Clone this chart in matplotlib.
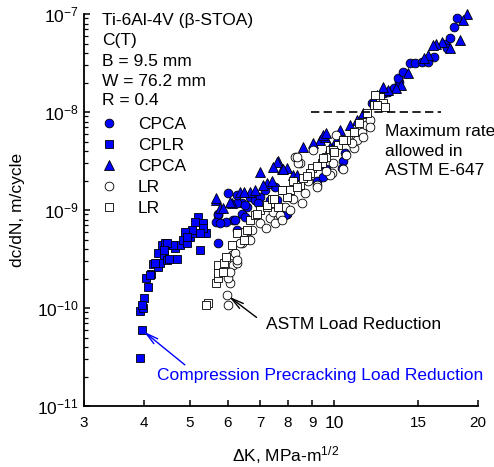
import matplotlib
matplotlib.use("Agg")
import matplotlib.pyplot as plt
from matplotlib.ticker import FixedLocator, FixedFormatter, NullLocator, LogLocator, NullFormatter

plt.rcParams['font.family'] = ['Liberation Sans', 'DejaVu Sans']
plt.rcParams['mathtext.fontset'] = 'custom'
plt.rcParams['mathtext.rm'] = 'Liberation Sans'
plt.rcParams['mathtext.it'] = 'Liberation Sans:italic'

BLUE = '#0000ff'
FS = 12.5

# ---------------- data (ΔK in MPa-m^1/2, dc/dN in m/cycle) ----------------
cpca_circ_dk = [5.73, 6.01, 6.16, 6.26, 6.41, 6.67, 6.84, 7.00, 7.17, 7.53, 7.59, 7.96,
                5.72, 5.95, 5.67, 6.41, 6.58, 6.21, 6.52, 6.94, 7.35, 7.90, 6.26, 9.64,
                10.55, 9.2, 8.09, 10.45, 9.5, 10.37, 12.0, 12.3, 12.7, 12.95, 13.35, 13.7,
                13.6, 13.95, 14.4, 14.75, 15.25, 15.75, 16.15, 17.1, 17.25, 17.5, 17.8, 18.1,
                6.26, 5.72, 5.78, 6.52]
cpca_circ_rate = [4.6e-10, 1.48e-9, 7.9e-10, 6.3e-10, 1.17e-9, 1.37e-9, 1.26e-9, 1.37e-9, 1.6e-9,
                  1.73e-9, 1.26e-9, 9.2e-10, 8.9e-10, 7.6e-10, 7.6e-10, 9.2e-10, 1.08e-9, 7.9e-10,
                  8.5e-10, 1.17e-9, 1.26e-9, 8.9e-10, 1.17e-9, 2.6e-9, 3.79e-9, 2.0e-9, 1.37e-9,
                  3.2e-9, 2.19e-9, 2.66e-9, 1.23e-8, 1.38e-8, 1.55e-8, 1.61e-8, 1.74e-8, 2.04e-8,
                  2.21e-8, 2.58e-8, 3.14e-8, 3.14e-8, 3.26e-8, 3.26e-8, 3.66e-8, 5.0e-8, 4.47e-8,
                  5.65e-8, 7.4e-8, 9.0e-8, 1.42e-9, 9.2e-10, 7.3e-10, 1.12e-9]

cplr_dk = [3.93, 3.96, 3.93, 3.98, 4.01, 4.04, 4.09, 4.14, 4.19, 4.29, 4.33, 4.28, 4.40, 4.47,
           4.36, 4.43, 4.54, 4.65, 4.69, 4.76, 4.83, 4.92, 5.00, 5.12, 5.24, 5.37, 5.20, 5.33,
           5.12, 5.04, 4.88, 4.92, 4.61, 4.47, 4.40, 4.22, 4.12, 3.96, 5.40, 4.51, 5.33, 5.33,
           5.24]
cplr_rate = [3.1e-11, 6.0e-11, 9.3e-11, 1.0e-10, 1.26e-10, 2.04e-10, 1.63e-10, 2.22e-10, 2.79e-10,
             2.64e-10, 2.9e-10, 3.6e-10, 3.5e-10, 3.1e-10, 4.4e-10, 4.6e-10, 4.4e-10, 4.1e-10,
             3.2e-10, 4.4e-10, 4.9e-10, 4.6e-10, 5.3e-10, 5.8e-10, 3.9e-10, 5.8e-10, 8.5e-10,
             7.0e-10, 7.6e-10, 6.3e-10, 6.0e-10, 5.3e-10, 4.4e-10, 4.6e-10, 3.9e-10, 2.86e-10,
             2.17e-10, 1.07e-10, 5.8e-10, 3.2e-10, 7.3e-10, 6.5e-10, 5.8e-10]

cpca_tri_dk = [7.0, 7.63, 7.96, 5.67, 6.11, 6.36, 6.67, 7.23, 7.41, 7.77, 8.22, 5.78, 7.59, 7.47,
               7.83, 8.36, 9.35, 9.58, 9.81, 10.8, 6.47, 6.84, 7.11, 9.5, 9.64, 12.3, 8.63, 19.0,
               18.6, 18.3, 17.5, 16.85, 16.35, 16.1, 15.75, 15.4, 14.3, 13.8, 13.45, 12.95, 12.65,
               12.1, 5.67, 6.06, 5.85, 11.15, 11.5, 10.3, 9.05, 10.1]
cpca_tri_rate = [2.46e-9, 3.2e-9, 2.66e-9, 1.26e-9, 1.17e-9, 1.54e-9, 1.54e-9, 1.87e-9, 2.0e-9,
                 2.6e-9, 2.28e-9, 1.04e-9, 3.11e-9, 2.77e-9, 2.6e-9, 2.28e-9, 5.2e-9, 5.6e-9,
                 4.43e-9, 7.36e-9, 1.54e-9, 1.6e-9, 1.8e-9, 5.8e-9, 6.06e-9, 1.49e-8, 4.43e-9,
                 1.0e-7, 8.7e-8, 5.4e-8, 4.47e-8, 5.2e-8, 5.0e-8, 4.83e-8, 3.82e-8, 3.53e-8,
                 2.48e-8, 1.89e-8, 1.74e-8, 1.68e-8, 1.81e-8, 1.38e-8, 1.32e-9, 1.22e-9, 1.04e-9,
                 8.3e-9, 9.7e-9, 6.5e-9, 4.8e-9, 5.2e-9]

lr_circ_dk = [5.97, 6.01, 6.06, 6.01, 6.16, 6.26, 6.11, 6.21, 6.41, 6.62, 6.73, 6.06, 6.36, 6.67,
              6.26, 7.0, 7.35, 7.63, 7.90, 8.22, 8.28, 8.49, 7.47, 8.42, 10.1, 6.47, 7.53, 7.71,
              8.56, 9.2, 9.9, 10.45, 11.0, 11.1, 8.09, 8.35, 9.05, 9.95, 11.15, 11.45, 11.65,
              11.9, 9.2, 8.84, 9.81, 10.9, 11.9, 11.5, 7.2, 7.8, 8.7, 9.6, 10.6]
lr_circ_rate = [1.36e-10, 1.07e-10, 1.79e-10, 2.01e-10, 2.75e-10, 2.86e-10, 3.48e-10, 3.6e-10,
                4.57e-10, 5.1e-10, 6.3e-10, 2.34e-10, 4.57e-10, 4.9e-10, 3.1e-10, 7.3e-10, 8.2e-10,
                8.2e-10, 1.08e-9, 1.31e-9, 3.5e-9, 3.0e-9, 9.6e-10, 3.0e-9, 5.8e-9, 6.0e-10,
                7.3e-10, 8.9e-10, 1.17e-9, 1.8e-9, 2.37e-9, 2.6e-9, 4.27e-9, 5.4e-9, 1.0e-9,
                3.5e-9, 4.1e-9, 3.0e-9, 5.2e-9, 6.3e-9, 7.4e-9, 8.3e-9, 1.73e-9, 2.0e-9, 2.28e-9,
                4.8e-9, 7.1e-9, 5.6e-9, 6.6e-10, 8.0e-10, 1.5e-9, 2.5e-9, 3.6e-9]

lr_sq_dk = [5.44, 5.40, 5.67, 5.72, 5.73, 5.72, 5.88, 5.95, 5.85, 6.11, 6.26, 6.58, 6.47, 6.67,
            6.84, 7.0, 7.23, 7.41, 7.63, 7.83, 8.09, 8.49, 7.96, 7.23, 7.41, 7.77, 8.22, 8.63,
            8.98, 9.42, 9.81, 10.2, 10.6, 9.64, 8.35, 8.91, 9.5, 9.95, 10.45, 11.0, 11.3, 11.7,
            12.1, 12.5, 12.65, 12.2, 12.3, 12.8, 6.9, 7.5, 8.8, 9.2, 10.0]
lr_sq_rate = [1.12e-10, 1.07e-10, 1.79e-10, 2.01e-10, 2.26e-10, 2.75e-10, 2.86e-10, 3.33e-10,
              2.34e-10, 4.4e-10, 5.8e-10, 6.3e-10, 4.9e-10, 7.9e-10, 8.9e-10, 1.0e-9, 1.08e-9,
              1.17e-9, 1.08e-9, 1.6e-9, 1.6e-9, 1.8e-9, 1.37e-9, 1.12e-9, 1.31e-9, 1.6e-9, 2.0e-9,
              2.1e-9, 2.66e-9, 3.0e-9, 4.1e-9, 4.6e-9, 5.2e-9, 3.5e-9, 1.73e-9, 2.37e-9, 3.37e-9,
              4.1e-9, 5.2e-9, 6.3e-9, 7.7e-9, 9.7e-9, 1.18e-8, 1.43e-8, 1.23e-8, 1.49e-8,
              1.18e-8, 1.13e-8, 9.0e-10, 1.3e-9, 2.2e-9, 2.8e-9, 3.9e-9]

max_rate = 1.0e-8
max_rate_dk = [8.93, 16.7]

x_ticks = [3, 4, 5, 6, 7, 8, 9, 10, 15, 20]
y_ticks = [1e-11, 1e-10, 1e-9, 1e-8, 1e-7]
y_tick_labels = [r'$\mathregular{10^{-11}}$', r'$\mathregular{10^{-10}}$', r'$\mathregular{10^{-9}}$',
                 r'$\mathregular{10^{-8}}$', r'$\mathregular{10^{-7}}$']

# ---------------- figure ----------------
fig = plt.figure(figsize=(4.94, 4.67), dpi=100)
ax = fig.add_axes([0.170, 0.1306, 0.7976, 0.8394])
ax.set_xscale('log')
ax.set_yscale('log')
ax.set_xlim(3, 20)
ax.set_ylim(1e-11, 1e-7)

mk = dict(linestyle='none', markeredgecolor='black', markeredgewidth=0.6, clip_on=False)
h1, = ax.plot(cpca_circ_dk, cpca_circ_rate, marker='o', ms=6.3, markerfacecolor=BLUE, label='CPCA', **mk)
h3, = ax.plot(cpca_tri_dk, cpca_tri_rate, marker='^', ms=6.5, markerfacecolor=BLUE, label='CPCA', **mk)
h2, = ax.plot(cplr_dk, cplr_rate, marker='s', ms=5.4, markerfacecolor=BLUE, label='CPLR', **mk)
h4, = ax.plot(lr_circ_dk, lr_circ_rate, marker='o', ms=6.3, markerfacecolor='white', label='LR', **mk)
h5, = ax.plot(lr_sq_dk, lr_sq_rate, marker='s', ms=5.4, markerfacecolor='white', label='LR', **mk)

ax.plot(max_rate_dk, [max_rate, max_rate], color='black', lw=1.2, dashes=(5, 2.6))

for s in ['top', 'right']:
    ax.spines[s].set_visible(False)
for s in ['left', 'bottom']:
    ax.spines[s].set_linewidth(1.3)

ax.xaxis.set_major_locator(FixedLocator(x_ticks))
ax.xaxis.set_major_formatter(FixedFormatter([str(v) for v in x_ticks]))
ax.xaxis.set_minor_locator(NullLocator())
ax.yaxis.set_major_locator(FixedLocator(y_ticks))
ax.yaxis.set_major_formatter(FixedFormatter(y_tick_labels))
ax.yaxis.set_minor_locator(LogLocator(base=10, subs=range(2, 10)))
ax.yaxis.set_minor_formatter(NullFormatter())

ax.tick_params(axis='x', which='major', direction='in', length=4.5, width=1.1, labelsize=11, pad=7.5)
ax.tick_params(axis='y', which='major', direction='in', length=4.5, width=1.1, labelsize=12.5, pad=4)
ax.tick_params(axis='y', which='minor', direction='in', length=2.6, width=0.9)
for t in ax.get_xticklabels():
    if t.get_text() == '10':
        t.set_fontsize(12.5)

ax.set_xlabel(r'$\Delta$K, MPa-m$^{\mathregular{1/2}}$', fontsize=FS)
ax.xaxis.set_label_coords(0.513, -0.097)
ax.set_ylabel('dc/dN, m/cycle', fontsize=FS)
ax.yaxis.set_label_coords(-0.150, 0.5)

# text block
info = ['Ti-6Al-4V (β-STOA)', 'C(T)', 'B = 9.5 mm', 'W = 76.2 mm', 'R = 0.4']
ys = [0.9727, 0.9222, 0.8673, 0.8176, 0.7679]
for s, y in zip(info, ys):
    ax.text(0.0457, y, s, transform=ax.transAxes, fontsize=FS, va='baseline', ha='left')

ax.legend(handles=[h1, h2, h3, h4, h5], loc='upper left', bbox_to_anchor=(0.0414, 0.737),
          frameon=False, fontsize=FS, borderpad=0, borderaxespad=0, handlelength=1.0,
          handletextpad=1.17, labelspacing=0.33, numpoints=1)

ax.text(0.764, 0.589, 'Maximum rate\nallowed in\nASTM E-647', transform=ax.transAxes,
        fontsize=FS, va='baseline', ha='left', linespacing=1.38)

ax.annotate('', xy=(lr_circ_dk[0], lr_circ_rate[0]), xytext=(0.438, 0.226),
            textcoords='axes fraction',
            arrowprops=dict(arrowstyle='->,head_length=0.9,head_width=0.22', color='black', lw=1.0,
                            shrinkA=0, shrinkB=2))
ax.text(0.462, 0.209, 'ASTM Load Reduction', transform=ax.transAxes, fontsize=FS,
        va='center', ha='left')

ax.annotate('', xy=(cplr_dk[1], cplr_rate[1]), xytext=(0.256, 0.105),
            textcoords='axes fraction',
            arrowprops=dict(arrowstyle='->,head_length=0.9,head_width=0.22', color=BLUE, lw=1.0,
                            shrinkA=0, shrinkB=2))
ax.text(0.1845, 0.079, 'Compression Precracking Load Reduction', transform=ax.transAxes,
        fontsize=FS, va='center', ha='left', color=BLUE)

fig.savefig('out.png', dpi=100)
